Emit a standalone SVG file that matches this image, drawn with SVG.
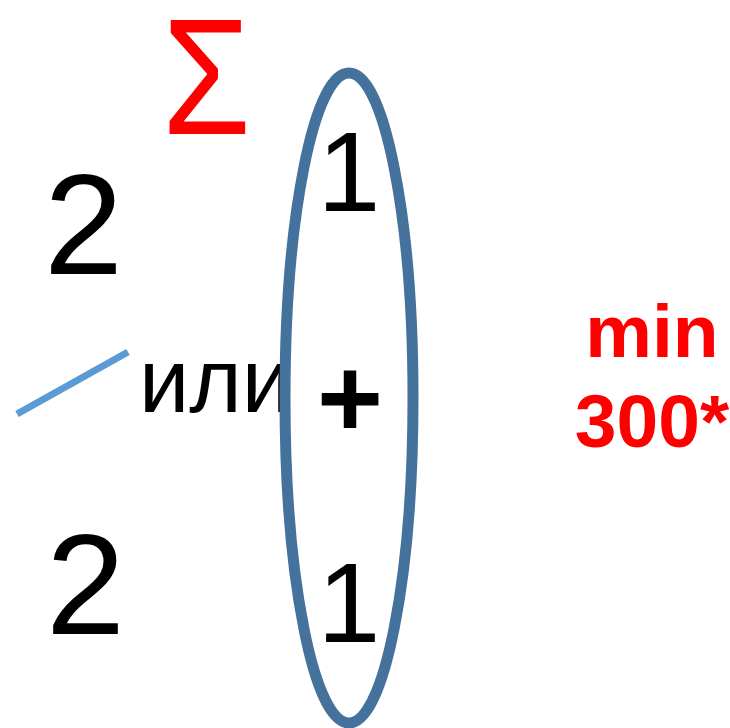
<svg xmlns="http://www.w3.org/2000/svg" width="730" height="728" viewBox="0 0 730 728">
<style>
.t{font-family:"Liberation Sans",Arial,sans-serif;fill:#000}
.r{font-family:"Liberation Sans",Arial,sans-serif;fill:#FF0000;font-weight:bold;text-anchor:middle}
</style>
<rect width="730" height="728" fill="#fff"/>
<g id="sigma"><text transform="translate(206.5,134) scale(0.85,0.98)" x="0" y="0" font-size="169" text-anchor="middle" style="font-family:'Liberation Sans',Arial,sans-serif;fill:#FF0000">Σ</text></g>
<g id="two-top"><text class="t" x="44" y="274" font-size="142">2</text></g>
<g id="two-bottom"><text class="t" x="46" y="634" font-size="142">2</text></g>
<g id="connectors"><line x1="17" y1="414" x2="128" y2="352" stroke="#5B9BD5" stroke-width="7"/></g>
<g id="ili"><text class="t" x="139" y="412" font-size="90">или</text></g>
<g id="ellipse">
<ellipse cx="349" cy="398" rx="64" ry="325" fill="none" stroke="#44729D" stroke-width="11"/>
<text class="t" x="349" y="211" font-size="113" text-anchor="middle">1</text>
<text class="t" x="350" y="437" font-size="113" font-weight="bold" text-anchor="middle">+</text>
<text class="t" x="349" y="642" font-size="113" text-anchor="middle">1</text>
</g>
<g id="min"><text class="r" x="652" y="357" font-size="75">min</text><text class="r" x="652" y="447" font-size="75">300*</text></g>
</svg>
